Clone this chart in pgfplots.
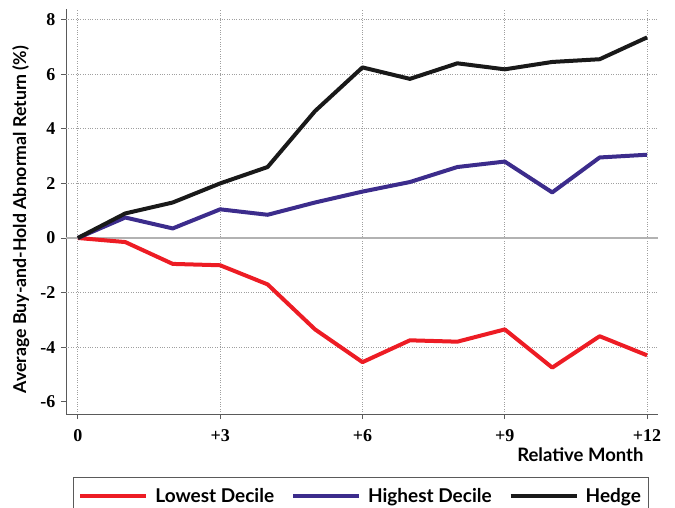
\documentclass[border=0pt]{standalone}
\usepackage{fontspec}
\setmainfont{Lato}
\newfontfamily\numfont{Liberation Serif}
\usepackage{pgfplots}
\pgfplotsset{compat=1.18}
\definecolor{cRed}{RGB}{237,28,36}
\definecolor{cBlue}{RGB}{60,44,140}
\definecolor{cBlack}{RGB}{25,25,25}
\definecolor{cAxis}{RGB}{90,90,90}
\begin{document}
\begin{tikzpicture}[x=1pt,y=1pt]
\useasboundingbox (0,0) rectangle (675,507);
\begin{axis}[
  at={(66pt,93pt)}, anchor=south west,
  width=592pt, height=405pt, scale only axis,
  xmin=-0.25, xmax=12.23, ymin=-6.45, ymax=8.39,
  axis lines*=left,
  axis line style={cAxis, line width=0.8pt},
  xtick={0,3,6,9,12}, xticklabels={0,+3,+6,+9,+12},
  ytick={-6,-4,-2,0,2,4,6,8}, yticklabels={-6,-4,-2,0,2,4,6,8},
  tick align=outside, major tick length=5pt,
  tick style={cAxis, line width=0.8pt},
  xmajorgrids=true,
  grid style={dotted, gray!75, line width=0.9pt},
  extra y ticks={-4,-2,2,4,6,8}, extra y tick labels={},
  extra tick style={ymajorgrids=true, major tick length=0pt},
  ticklabel style={font=\numfont\bfseries\fontsize{18}{18}\selectfont},
  xticklabel style={yshift=-7pt},
  yticklabel style={xshift=-2pt},
  xlabel={Relative Month},
  xlabel style={at={(rel axis cs:1,0)}, anchor=north east, xshift=-11pt, yshift=-30pt, font=\bfseries\fontsize{18.5}{18.5}\selectfont},
  ylabel={Average Buy-and-Hold Abnormal Return (\%)},
  ylabel style={at={(axis description cs:-0.056,0.48)}, anchor=south, font=\bfseries\fontsize{17.7}{17.7}\selectfont},
  legend columns=3,
  legend style={at={(0.0118,-0.1556)}, anchor=north west, draw=cAxis, line width=0.8pt,
    font=\bfseries\fontsize{19}{19}\selectfont, inner xsep=5pt, inner ysep=9pt,
    /tikz/every odd column/.append style={column sep=5pt},
    /tikz/every even column/.append style={column sep=15pt}},
  legend image code/.code={\draw[#1, line width=4pt] (0pt,0pt) -- (66pt,0pt);},
  clip=false,
]
\addplot[gray!60, line width=1.5pt, forget plot] coordinates {(-0.25,0) (12.23,0)};
\addplot[cRed, line width=4pt, line join=round] coordinates {
(0,0) (1,-0.15) (2,-0.95) (3,-1.0) (4,-1.7) (5,-3.35) (6,-4.55) (7,-3.75) (8,-3.8) (9,-3.35) (10,-4.75) (11,-3.6) (12,-4.3)};
\addlegendentry{Lowest Decile}
\addplot[cBlue, line width=4pt, line join=round] coordinates {
(0,0) (1,0.75) (2,0.35) (3,1.05) (4,0.85) (5,1.3) (6,1.7) (7,2.05) (8,2.6) (9,2.8) (10,1.67) (11,2.95) (12,3.05)};
\addlegendentry{Highest Decile}
\addplot[cBlack, line width=4pt, line join=round] coordinates {
(0,0) (1,0.9) (2,1.3) (3,2.0) (4,2.6) (5,4.65) (6,6.25) (7,5.83) (8,6.4) (9,6.18) (10,6.45) (11,6.55) (12,7.35)};
\addlegendentry{Hedge}
\end{axis}
\end{tikzpicture}
\end{document}
